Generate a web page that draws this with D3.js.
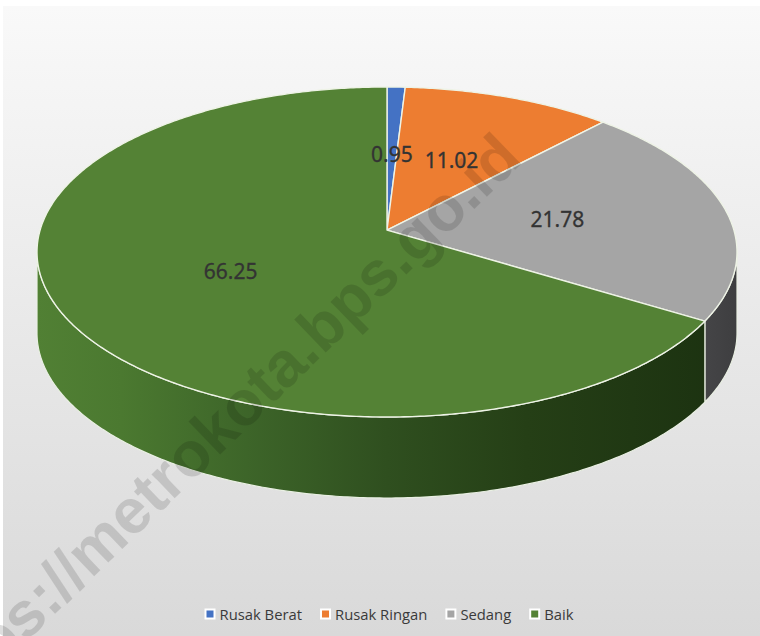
<!DOCTYPE html>
<html><head><meta charset="utf-8">
<script src="https://cdn.jsdelivr.net/npm/d3@7"></script>
<style>html,body{margin:0;padding:0;background:#fff;} svg{display:block;}</style>
</head><body>
<svg id="c" width="760" height="636"></svg>
<script>
const categories = ["Rusak Berat", "Rusak Ringan", "Sedang", "Baik"];
const values = [0.95, 11.02, 21.78, 66.25];
const valueLabels = ["0.95", "11.02", "21.78", "66.25"];
const colors = ["#4472C4", "#ED7D31", "#A5A5A5", "#548235"];
const watermark = "https://metrokota.bps.go.id";

const W = 760, H = 636;
const svg = d3.select("#c");
const defs = svg.append("defs");

const bg = defs.append("linearGradient").attr("id", "bg").attr("x1", 0).attr("y1", 0).attr("x2", 0).attr("y2", 1);
bg.append("stop").attr("offset", "0%").attr("stop-color", "#f9f9f9");
bg.append("stop").attr("offset", "100%").attr("stop-color", "#d9d9d9");
svg.append("rect").attr("x", 3).attr("y", 6).attr("width", W - 3).attr("height", H - 6).attr("fill", "url(#bg)");

// geometry of the tilted pie
const cx = 387, cy = 252, rx = 350, ry = 165, depth = 81, persp = -0.133;

function project(theta, f) {
  const u = f * Math.sin(theta), v = -f * Math.cos(theta);
  const den = 1 + persp * v;
  const up = u * Math.sqrt(1 - persp * persp) / den, vp = (v + persp) / den;
  return [cx + rx * up, cy + ry * vp];
}

const pie = d3.pie().sort(null).value(d => d)(values);
const line = d3.line();

// side gradients
const sideGreen = defs.append("linearGradient").attr("id", "sideGreen")
  .attr("gradientUnits", "userSpaceOnUse").attr("x1", cx - rx).attr("x2", cx + rx).attr("y1", 0).attr("y2", 0);
[["0%", "#518034"], ["12%", "#4b7930"], ["30%", "#3d6529"], ["50%", "#2f4f1f"], ["70%", "#253f16"], ["100%", "#1b3110"]]
  .forEach(s => sideGreen.append("stop").attr("offset", s[0]).attr("stop-color", s[1]));
const sideGray = defs.append("linearGradient").attr("id", "sideGray")
  .attr("gradientUnits", "userSpaceOnUse").attr("x1", cx - rx).attr("x2", cx + rx).attr("y1", 0).attr("y2", 0);
[["0%", "#6a6a6a"], ["90%", "#4d4d4f"], ["100%", "#3e3e40"]]
  .forEach(s => sideGray.append("stop").attr("offset", s[0]).attr("stop-color", s[1]));
const sideFill = ["#2f4f8f", "#b05a20", "url(#sideGray)", "url(#sideGreen)"];

// visible side range (front half in screen space)
const visA = Math.acos(persp);
const visB = 2 * Math.PI - visA;

const sides = svg.append("g");
pie.forEach((d, i) => {
  const a = Math.max(d.startAngle, visA), bnd = Math.min(d.endAngle, visB);
  if (bnd <= a) return;
  const n = Math.max(4, Math.ceil((bnd - a) / 0.01));
  const top = d3.range(n + 1).map(k => project(a + (bnd - a) * k / n, 1));
  const bot = top.slice().reverse().map(p => [p[0], p[1] + depth]);
  sides.append("path").attr("d", line(top.concat(bot)) + "Z")
    .attr("fill", sideFill[i]).attr("stroke", "#e9efe3").attr("stroke-width", 1.2).attr("stroke-linejoin", "round");
});

// top faces
const tops = svg.append("g");
pie.forEach((d, i) => {
  const n = Math.max(4, Math.ceil((d.endAngle - d.startAngle) / 0.01));
  const pts = [project(0, 0)].concat(d3.range(n + 1).map(k => project(d.startAngle + (d.endAngle - d.startAngle) * k / n, 1)));
  tops.append("path").attr("d", line(pts) + "Z")
    .attr("fill", colors[i]).attr("stroke", "#eef3e6").attr("stroke-width", 1.4).attr("stroke-linejoin", "round");
});

// watermark
svg.append("text").text(watermark)
  .attr("transform", "translate(-60,725) rotate(-44)")
  .attr("font-family", "Liberation Sans, Arial, sans-serif").attr("font-weight", "bold").attr("font-size", 63)
  .attr("fill", "#000").attr("fill-opacity", 0.13);

// data labels
pie.forEach((d, i) => {
  const p = project((d.startAngle + d.endAngle) / 2, 0.5);
  svg.append("text").text(valueLabels[i])
    .attr("x", p[0]).attr("y", p[1]).attr("text-anchor", "middle").attr("dominant-baseline", "central")
    .attr("font-family", "Noto Sans, sans-serif").attr("font-size", 21).attr("fill", "#333")
    .attr("stroke", "#333").attr("stroke-width", 0.3);
});

// legend
const lg = svg.append("g");
let x = 0;
categories.forEach((c, i) => {
  const g = lg.append("g").attr("transform", `translate(${x},0)`);
  g.append("rect").attr("x", 0).attr("y", -5.5).attr("width", 11).attr("height", 11).attr("fill", "#fff");
  g.append("rect").attr("x", 2).attr("y", -3.5).attr("width", 7).attr("height", 7).attr("fill", colors[i]);
  const t = g.append("text").text(c).attr("x", 15).attr("y", 0).attr("dominant-baseline", "central")
    .attr("font-family", "Open Sans, sans-serif").attr("font-size", 14.8).attr("fill", "#3a3a3a");
  x += 15 + t.node().getComputedTextLength() + 18;
});
const total = x - 18;
lg.attr("transform", `translate(${389 - total / 2},614)`);
</script>
</body></html>
